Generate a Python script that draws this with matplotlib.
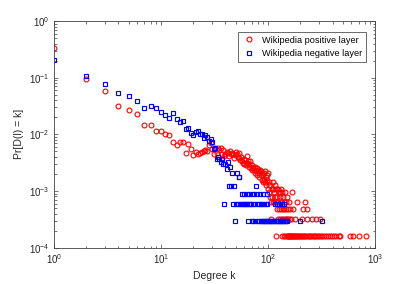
import numpy as np
import matplotlib
matplotlib.use('Agg')
import matplotlib.pyplot as plt

plt.rcParams['font.family'] = ['Liberation Sans', 'DejaVu Sans']
plt.rcParams['mathtext.default'] = 'regular'

# number of nodes in each layer (read from the lowest plateau: 1 node)
n_pos = 6330
n_neg = 3330

# Wikipedia positive layer: degree -> number of nodes
pos_deg = [1, 2, 3, 4, 5, 6, 7, 8, 9, 10, 11, 12, 13, 14, 15, 16, 17, 18, 19, 20,
           21, 22, 23, 24, 25, 26, 27, 28, 29, 30, 31, 32, 33, 34, 35, 36, 37, 38, 39, 40,
           41, 42, 43, 44, 45, 46, 47, 48, 49, 50, 51, 52, 53, 54, 55, 56, 57, 58, 59, 60,
           61, 62, 63, 64, 65, 66, 67, 68, 69, 70, 71, 72, 73, 74, 75, 76, 77, 78, 79, 80,
           81, 82, 83, 84, 85, 86, 87, 88, 89, 90, 91, 92, 93, 94, 95, 96, 97, 98, 99, 100,
           101, 103, 105, 108, 110, 112, 115, 117,
           120, 124, 131,
           102, 113, 126, 130, 135, 144, 166,
           104, 109, 116, 121, 128, 138, 150,
           106, 111, 114, 119, 125, 132, 140, 148, 157, 185, 220,
           122, 127, 133, 137, 142, 146, 153, 160, 172, 213, 232,
           107, 123, 129, 134, 139, 143, 147, 151, 155, 159, 164, 178, 206, 229, 255, 278, 305,
           118, 136, 141, 145, 149, 152, 154, 156, 158, 161, 163, 165, 168, 170, 174, 176,
           181, 183, 188, 192, 196, 199, 203, 208, 211, 216, 219, 224, 236, 241, 247, 252,
           260, 266, 272, 283, 290, 297, 310, 322, 335, 348, 362, 378, 395, 412, 430, 455,
           470, 580, 620, 700, 830]
pos_cnt = [2150, 600, 367, 203, 168, 146, 92, 93, 72, 72, 65, 61, 46, 41, 47, 47, 30, 42, 35, 27,
           31, 29, 30, 31, 32, 33, 32, 41, 44, 35, 29, 37, 30, 37, 33, 36, 28, 34, 26, 29,
           31, 30, 26, 32, 28, 30, 29, 24, 27, 31, 28, 25, 24, 30, 22, 25, 21, 20, 23, 19,
           22, 18, 26, 20, 21, 17, 19, 21, 16, 18, 15, 17, 16, 15, 13, 17, 14, 16, 12, 15,
           15, 13, 11, 15, 12, 14, 10, 13, 9, 12, 10, 13, 14, 9, 11, 8, 10, 12, 7, 13,
           9, 8, 8, 7, 9, 7, 7, 8,
           7, 7, 7,
           6, 6, 6, 6, 6, 6, 6,
           5, 5, 5, 5, 5, 5, 5,
           4, 4, 4, 4, 4, 4, 4, 4, 4, 4, 4,
           3, 3, 3, 3, 3, 3, 3, 3, 3, 3, 3,
           2, 2, 2, 2, 2, 2, 2, 2, 2, 2, 2, 2, 2, 2, 2, 2, 2,
           1, 1, 1, 1, 1, 1, 1, 1, 1, 1, 1, 1, 1, 1, 1, 1,
           1, 1, 1, 1, 1, 1, 1, 1, 1, 1, 1, 1, 1, 1, 1, 1,
           1, 1, 1, 1, 1, 1, 1, 1, 1, 1, 1, 1, 1, 1, 1, 1,
           1, 1, 1, 1, 1]

# Wikipedia negative layer: degree -> number of nodes
neg_deg = [1, 2, 3, 4, 5, 6, 7, 8, 9, 10, 11, 12, 13, 14, 15, 16, 17, 18, 19, 20,
           21, 22, 23, 24, 25, 26, 27, 28, 29, 30, 31, 32, 33, 34, 35, 36, 37, 38,
           40, 41, 42, 44, 46, 51, 53, 54,
           43, 45, 48, 77,
           57, 60, 63, 67, 70, 74, 79, 84, 90, 97,
           39, 47, 50, 52, 55, 56, 58, 59, 61, 62, 64, 66, 68, 69, 72, 75, 80, 82, 86,
           88, 92, 95, 98, 116, 121, 127, 134, 141,
           49, 65, 71, 73, 76, 81, 83, 85, 87, 89, 91, 93, 94, 96, 99, 101, 103, 105,
           107, 110, 112, 114, 118, 120, 123, 125, 129, 131, 133, 136, 138, 143, 145,
           148, 150, 198, 316]
neg_cnt = [683, 356, 254, 176, 160, 127, 97, 107, 97, 83, 73, 64, 80, 62, 55, 58, 41, 43, 35, 32,
           37, 38, 34, 34, 29, 32, 30, 25, 28, 24, 18, 19, 12, 13, 12, 11, 12, 10,
           10, 8, 11, 9, 7, 7, 6, 6,
           4, 4, 4, 4,
           3, 3, 3, 3, 3, 3, 3, 3, 3, 3,
           2, 2, 2, 2, 2, 2, 2, 2, 2, 2, 2, 2, 2, 2, 2, 2, 2, 2, 2,
           2, 2, 2, 2, 2, 2, 2, 2, 2,
           1, 1, 1, 1, 1, 1, 1, 1, 1, 1, 1, 1, 1, 1, 1, 1, 1, 1,
           1, 1, 1, 1, 1, 1, 1, 1, 1, 1, 1, 1, 1, 1, 1,
           1, 1, 1, 1]

pos_pr = np.array(pos_cnt) / n_pos
neg_pr = np.array(neg_cnt) / n_neg

fig = plt.figure(figsize=(4.15, 2.84), dpi=100)
ax = fig.add_axes([0.130, 0.128, 0.774, 0.798])

ax.plot(pos_deg, pos_pr, linestyle='none', marker='o', markersize=3.5,
        markerfacecolor='none', markeredgecolor='#ff0000', markeredgewidth=0.8,
        label='Wikipedia positive layer')
ax.plot(neg_deg, neg_pr, linestyle='none', marker='s', markersize=3.3,
        markerfacecolor='none', markeredgecolor='#0000ff', markeredgewidth=0.85,
        label='Wikipedia negative layer')

ax.set_xscale('log')
ax.set_yscale('log')
ax.set_xlim(1, 1000)
ax.set_ylim(1e-4, 1)

axis_col = '#404040'
for s in ax.spines.values():
    s.set_color(axis_col)
    s.set_linewidth(0.6)
ax.tick_params(which='both', direction='in', top=True, right=True,
               colors=axis_col, labelcolor='#262626', width=0.5)
ax.tick_params(which='major', length=3, labelsize=7, pad=3)
ax.tick_params(which='minor', length=1.8)

ax.set_xlabel('Degree k', fontsize=7.5, color='#262626', labelpad=4)
ax.set_ylabel('Pr[D(l) = k]', fontsize=7.5, color='#262626', labelpad=4)

leg = ax.legend(loc='upper right', bbox_to_anchor=(0.972, 0.952), fontsize=6.6,
                frameon=True, fancybox=False, edgecolor='#262626', borderpad=0.4,
                handletextpad=0.6, handlelength=1.6, borderaxespad=0)
leg.get_frame().set_linewidth(0.6)

fig.savefig('out.png', dpi=100)
